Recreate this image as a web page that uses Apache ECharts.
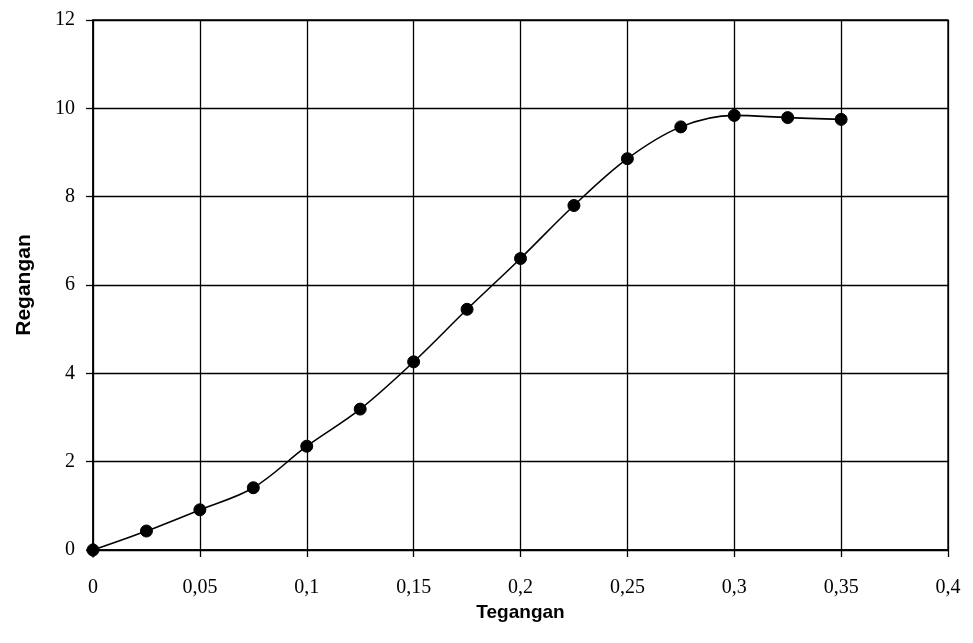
<!DOCTYPE html>
<html>
<head>
<meta charset="utf-8">
<script src="https://cdn.jsdelivr.net/npm/echarts@6/dist/echarts.min.js"></script>
<style>
  html, body { margin: 0; padding: 0; background: #fff; }
  #chart { width: 973px; height: 643px; }
</style>
</head>
<body>
<div id="chart"></div>
<script>
// Tegangan (x) and Regangan (y) measurements
const tegangan = [0, 0.025, 0.05, 0.075, 0.1, 0.125, 0.15, 0.175, 0.2, 0.225, 0.25, 0.275, 0.3, 0.325, 0.35];
const regangan = [0, 0.43, 0.91, 1.41, 2.35, 3.19, 4.26, 5.45, 6.60, 7.80, 8.86, 9.58, 9.84, 9.79, 9.75];

const xTicks = { min: 0, max: 0.4, step: 0.05 };
const yTicks = { min: 0, max: 12, step: 2 };

const points = tegangan.map((t, i) => [t, regangan[i]]);

const fmtComma = v => String(+(+v).toFixed(3)).replace('.', ',');

const chart = echarts.init(document.getElementById('chart'), null, { renderer: 'canvas' });

const axisCommon = {
  axisLine: { show: true, onZero: false, lineStyle: { color: '#000', width: 1.5 } },
  axisTick: { show: true, inside: false, length: 7, lineStyle: { color: '#000', width: 1.3 } },
  splitLine: { show: true, lineStyle: { color: '#000', width: 1.3 } },
  axisLabel: { color: '#000', fontFamily: 'Liberation Serif', fontSize: 20 },
  nameTextStyle: { color: '#000', fontFamily: 'Liberation Sans', fontWeight: 'bold', fontSize: 19 }
};

chart.setOption({
  animation: false,
  backgroundColor: '#fff',
  grid: { left: 93, right: 25, top: 20, bottom: 93, show: true, borderColor: '#000', borderWidth: 1.3 },
  xAxis: Object.assign({}, axisCommon, {
    type: 'value',
    min: xTicks.min, max: xTicks.max, interval: xTicks.step,
    name: 'Tegangan', nameLocation: 'middle', nameGap: 45,
    axisLabel: Object.assign({}, axisCommon.axisLabel, { margin: 28, formatter: fmtComma })
  }),
  yAxis: Object.assign({}, axisCommon, {
    type: 'value',
    min: yTicks.min, max: yTicks.max, interval: yTicks.step,
    name: 'Regangan', nameLocation: 'middle', nameGap: 58, nameRotate: 90,
    nameTextStyle: Object.assign({}, axisCommon.nameTextStyle, { fontSize: 21 }),
    axisLabel: Object.assign({}, axisCommon.axisLabel, { margin: 18, formatter: fmtComma })
  }),
  series: [{
    type: 'line',
    data: points,
    smooth: 0.35,
    symbol: 'circle',
    symbolSize: 12,
    showAllSymbol: true,
    clip: false,
    lineStyle: { color: '#000', width: 1.6 },
    itemStyle: { color: '#000', borderColor: '#000' }
  }, {
    // origin marker drawn as a diamond
    type: 'scatter',
    data: [points[0]],
    symbol: 'diamond',
    symbolSize: [14, 16],
    clip: false,
    itemStyle: { color: '#000' },
    z: 5
  }]
});
</script>
</body>
</html>
